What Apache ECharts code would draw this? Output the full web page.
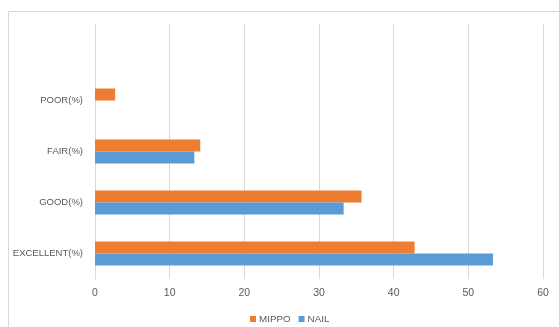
<!DOCTYPE html>
<html><head><meta charset="utf-8">
<script src="https://cdn.jsdelivr.net/npm/echarts@6/dist/echarts.min.js"></script>
<style>html,body{margin:0;padding:0;background:#fff}#c{width:559px;height:327px}</style>
</head><body><div id="c"></div>
<script>
const categories = ['EXCELLENT(%)', 'GOOD(%)', 'FAIR(%)', 'POOR(%)', ''];
const mippo = [42.8, 35.7, 14.1, 2.7, null];
const nail = [53.3, 33.3, 13.3, 0, null];
const xTicks = [0, 10, 20, 30, 40, 50, 60];

const chart = echarts.init(document.getElementById('c'), null, {renderer: 'canvas'});
const font = 'Liberation Sans';
chart.setOption({
  animation: false,
  graphic: [{type: 'rect', shape: {x: 8.5, y: 11.5, width: 700, height: 400}, style: {fill: 'none', stroke: '#d9d9d9', lineWidth: 1}, silent: true}],
  grid: {left: 95, right: 16, top: 24, bottom: 48, containLabel: false},
  legend: {
    data: ['MIPPO', 'NAIL'], left: 245, top: 309, itemWidth: 6, itemHeight: 6, itemGap: 8,
    icon: 'rect', textStyle: {fontFamily: font, fontSize: 9.8, color: '#595959', padding: [0, 0, 0, -2]}
  },
  xAxis: {
    type: 'value', min: xTicks[0], max: xTicks[xTicks.length - 1], interval: 10,
    axisLine: {show: false}, axisTick: {show: false},
    splitLine: {lineStyle: {color: '#d9d9d9', width: 1}},
    axisLabel: {fontFamily: font, fontSize: 10.5, color: '#595959', margin: 9}
  },
  yAxis: {
    type: 'category', data: categories,
    axisLine: {show: true, lineStyle: {color: '#d9d9d9'}}, axisTick: {show: false},
    axisLabel: {fontFamily: font, fontSize: 9.5, color: '#595959', margin: 12}
  },
  series: [
    {name: 'MIPPO', type: 'bar', data: mippo, barWidth: 12, barGap: '0%', itemStyle: {color: '#ED7D31'}},
    {name: 'NAIL', type: 'bar', data: nail, barWidth: 12, barGap: '0%', itemStyle: {color: '#5B9BD5'}}
  ]
});
</script></body></html>
